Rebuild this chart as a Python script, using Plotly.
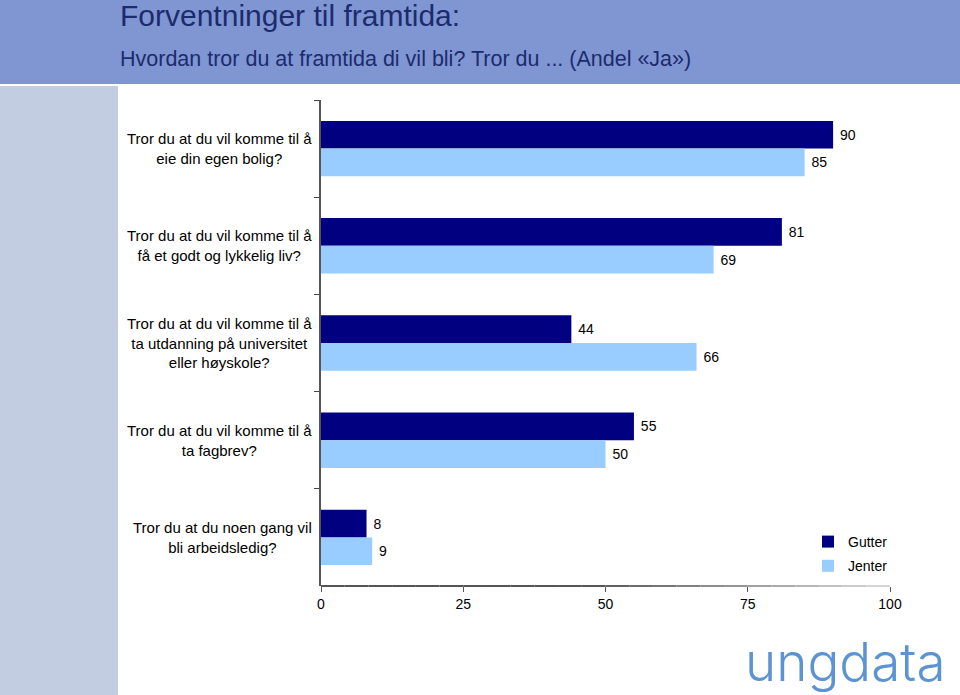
import plotly.graph_objects as go

categories = [
    "Tror du at du vil komme til å<br>eie din egen bolig?",
    "Tror du at du vil komme til å<br>få et godt og lykkelig liv?",
    "Tror du at du vil komme til å<br>ta utdanning på universitet<br>eller høyskole?",
    "Tror du at du vil komme til å<br>ta fagbrev?",
    "Tror du at du noen gang vil<br>bli arbeidsledig?",
]
gutter = [90, 81, 44, 55, 8]
jenter = [85, 69, 66, 50, 9]
series_names = ["Gutter", "Jenter"]
x_ticks = [0, 25, 50, 75, 100]

title = "Forventninger til framtida:"
subtitle = "Hvordan tror du at framtida di vil bli? Tror du ... (Andel «Ja»)"
logo_text = "ungdata"

W, H = 960, 695
L, R, T, B = 321, 890, 100, 586


def px(x):
    return (x - L) / (R - L)


def py(y):
    return (B - y) / (B - T)


label_font = dict(size=14, color="#000000", family="Liberation Sans")

fig = go.Figure()
fig.add_trace(go.Bar(
    y=categories, x=gutter, name=series_names[0], orientation="h", legendgroup="g",
    marker=dict(color="#000080", line=dict(width=0)),
    texttemplate="\u00a0%{x}", textposition="outside", cliponaxis=False,
    textfont=label_font,
))
fig.add_trace(go.Bar(
    y=categories, x=jenter, name=series_names[1], orientation="h", legendgroup="j",
    marker=dict(color="#99CCFF", line=dict(width=0)),
    texttemplate="\u00a0%{x}", textposition="outside", cliponaxis=False,
    textfont=label_font,
))

shapes = [
    dict(type="rect", xref="paper", yref="paper", x0=px(0), x1=px(W), y0=py(84), y1=py(0),
         fillcolor="#8096D2", line=dict(width=0), layer="below"),
    dict(type="rect", xref="paper", yref="paper", x0=px(0), x1=px(118), y0=py(H), y1=py(86),
         fillcolor="#C2CDE1", line=dict(width=0), layer="below"),
]

# x-axis baseline drawn as a grey gradient (dark on the left, fading to the right)
n_seg = 24
for i in range(n_seg):
    f0 = i / n_seg
    f1 = (i + 1) / n_seg
    t = max(0.0, (f0 - 0.45) / 0.55)
    g = int(85 + t * (225 - 85))
    shapes.append(dict(type="line", xref="paper", yref="paper", x0=f0, x1=f1, y0=0, y1=0,
                       line=dict(color=f"rgb({g},{g},{g})", width=2), layer="above"))

annotations = [
    dict(text=title, xref="paper", yref="paper", x=px(118), y=py(16), xanchor="left",
         yanchor="middle", showarrow=False,
         font=dict(family="Liberation Sans", size=30, color="#1C2B6E")),
    dict(text=subtitle, xref="paper", yref="paper", x=px(118), y=py(59), xanchor="left",
         yanchor="middle", showarrow=False,
         font=dict(family="Liberation Sans", size=21.5, color="#1C2B6E")),
    dict(text=logo_text, xref="paper", yref="paper", x=px(743), y=py(662), xanchor="left",
         yanchor="middle", showarrow=False,
         font=dict(family="Inter", size=53, color="#5B93D3", weight=300)),
]
for c in categories:
    annotations.append(dict(text=c, xref="paper", yref="y", x=px(314), y=c, xanchor="right",
                            yanchor="middle", align="center", showarrow=False,
                            font=dict(family="Liberation Sans", size=15, color="#000000")))

fig.update_layout(
    width=W, height=H,
    margin=dict(l=L, r=W - R, t=T, b=H - B, pad=0),
    paper_bgcolor="#FFFFFF", plot_bgcolor="#FFFFFF",
    barmode="group", bargap=0.43, bargroupgap=0,
    shapes=shapes, annotations=annotations,
    showlegend=True,
    legend=dict(x=px(808), y=py(526), xanchor="left", yanchor="top",
                font=dict(family="Liberation Sans", size=14, color="#000000"),
                bgcolor="rgba(0,0,0,0)", itemwidth=30, tracegroupgap=3),
    font=dict(family="Liberation Sans"),
)
fig.update_xaxes(range=[0, 100], tickvals=x_ticks, ticks="outside", ticklen=5,
                 tickcolor="#555555", tickwidth=1, showline=False,
                 showgrid=False, zeroline=False,
                 tickfont=dict(family="Liberation Sans", size=14, color="#000000"))
fig.update_yaxes(autorange="reversed", showticklabels=False, tickson="boundaries",
                 ticks="outside", ticklen=5, tickcolor="#444444", showline=True,
                 linecolor="#555555", linewidth=2, showgrid=False, zeroline=False)

fig.write_html("out.html", config={"displayModeBar": False},
               post_script="document.body.style.margin='0';")
